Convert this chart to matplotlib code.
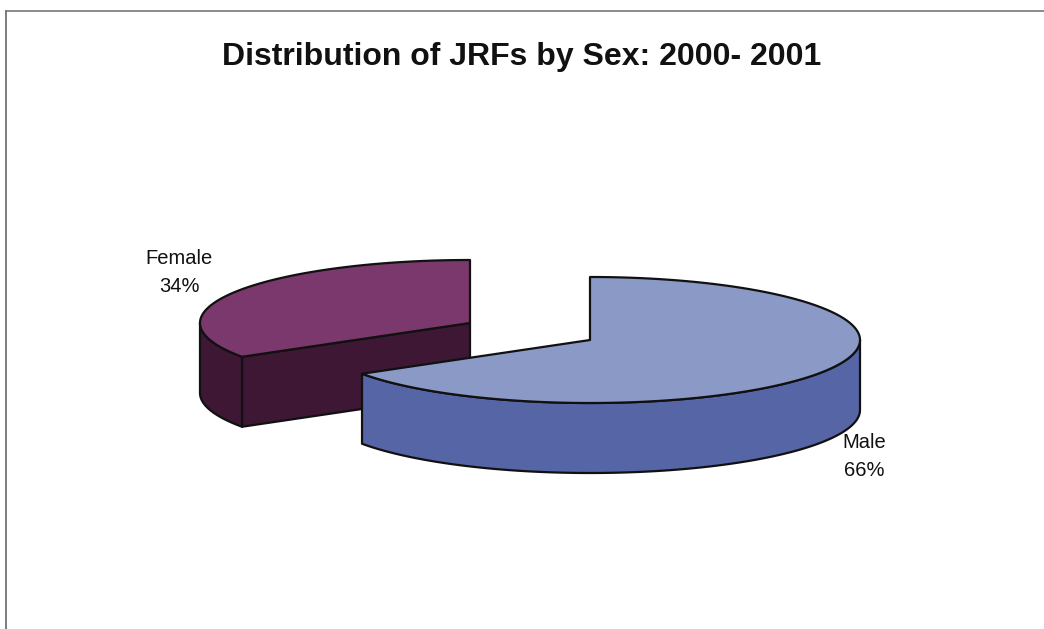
import numpy as np
import matplotlib.pyplot as plt
from matplotlib.patches import Polygon

# Chart data
labels = ['Male', 'Female']
shares = [66, 34]
top_colors = ['#8b99c7', '#7b386d']
side_colors = ['#5665a6', '#3d1733']
title = 'Distribution of JRFs by Sex: 2000- 2001'

plt.rcParams['font.family'] = ['Liberation Sans', 'DejaVu Sans']

fig = plt.figure(figsize=(10.44, 6.29), dpi=100)
ax = fig.add_axes([0, 0, 1, 1])
ax.set_xlim(0, 1044)
ax.set_ylim(629, 0)
ax.axis('off')

# frame lines from the scanned chart area
ax.plot([6, 6], [11, 629], color='#666666', lw=1.2)
ax.plot([6, 1044], [11, 11], color='#777777', lw=1.2)

# 3D pie geometry (pixels)
rx, ry, depth = 270, 63, 70
centers = [(590, 340), (470, 323)]   # female slice pulled out
label_pos = [(864, 457), (179, 272)]


def pt(c, th, dz=0.0):
    t = np.radians(th)
    return (c[0] + rx * np.sin(t), c[1] - ry * np.cos(t) + dz)


# angles clockwise from 12 o'clock
bounds = np.concatenate([[0], np.cumsum(shares)]) / sum(shares) * 360
slices = [(bounds[i], bounds[i + 1]) for i in range(len(shares))]

edge = dict(edgecolor='#111111', lw=1.6, joinstyle='round')

# draw back slice (female) first, then male
for i in [1, 0]:
    a0, a1 = slices[i]
    c = centers[i]
    # radial cut faces facing the viewer
    for a, sgn in [(a0, -1), (a1, 1)]:
        if sgn * np.sin(np.radians(a)) > 1e-6:
            p = pt(c, a)
            poly = [c, p, (p[0], p[1] + depth), (c[0], c[1] + depth)]
            ax.add_patch(Polygon(poly, closed=True, facecolor=side_colors[i], **edge))
    # curved outer wall, front half only
    w0, w1 = max(a0, 90), min(a1, 270)
    if w1 > w0:
        th = np.linspace(w0, w1, 120)
        upper = [pt(c, t) for t in th]
        lower = [pt(c, t, depth) for t in th[::-1]]
        ax.add_patch(Polygon(upper + lower, closed=True, facecolor=side_colors[i], **edge))
    # top face
    th = np.linspace(a0, a1, 240)
    poly = [c] + [pt(c, t) for t in th]
    ax.add_patch(Polygon(poly, closed=True, facecolor=top_colors[i], **edge))

for i in range(len(labels)):
    ax.text(label_pos[i][0], label_pos[i][1], f'{labels[i]}\n{shares[i]}%',
            ha='center', va='center', fontsize=14.5, linespacing=1.6, color='#111111')

ax.text(522, 57, title, ha='center', va='center', fontsize=23,
        fontweight='bold', color='#111111')

fig.savefig('out.png', dpi=100)
